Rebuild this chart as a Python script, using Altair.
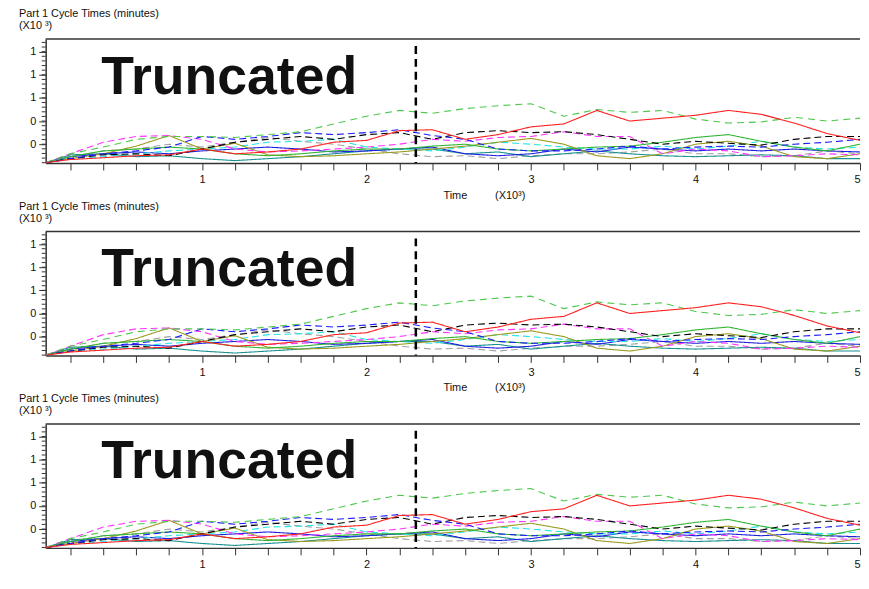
import altair as alt
import pandas as pd

# ---------------- data ----------------
time = [50, 200, 400, 600, 800, 1000, 1200, 1400, 1600, 1800, 2000, 2200, 2400,
        2600, 2800, 3000, 3200, 3400, 3600, 3800, 4000, 4200, 4400, 4600, 4800, 5000]

gray_dashed = [40, 92, 142, 158, 200, 175, 217, 258, 225, 200, 158, 117, 92, 100, 75, 100, 117, 117, 133, 158, 117, 117, 92, 100, 142, 117]
teal_solid = [40, 108, 117, 92, 100, 75, 58, 75, 92, 117, 142, 158, 158, 117, 133, 92, 117, 142, 117, 100, 92, 100, 108, 100, 75, 75]
blue_solid = [40, 92, 117, 133, 117, 142, 158, 175, 158, 133, 142, 158, 175, 117, 100, 117, 158, 133, 175, 158, 142, 158, 142, 158, 142, 133]
cyan_dashed = [40, 75, 92, 117, 142, 158, 175, 217, 225, 242, 175, 158, 142, 175, 217, 200, 175, 158, 158, 183, 158, 183, 225, 175, 158, 175]
olive_solid = [40, 75, 117, 183, 275, 158, 208, 108, 92, 100, 117, 133, 158, 183, 217, 250, 200, 100, 75, 117, 200, 225, 183, 92, 75, 117]
green_solid = [40, 92, 142, 158, 175, 158, 117, 100, 117, 142, 158, 158, 183, 200, 158, 142, 158, 175, 183, 217, 258, 283, 225, 175, 142, 200]
magenta_dashed = [40, 117, 217, 267, 275, 242, 158, 133, 142, 158, 175, 200, 242, 225, 258, 267, 308, 267, 267, 117, 158, 142, 92, 100, 117, 108]
black_dashed = [40, 75, 108, 117, 100, 158, 217, 242, 267, 242, 283, 300, 242, 300, 317, 300, 308, 283, 242, 200, 225, 208, 192, 242, 267, 267]
blue_dashed = [40, 75, 117, 142, 175, 267, 242, 267, 300, 283, 300, 325, 275, 242, 158, 142, 142, 158, 183, 158, 175, 183, 175, 200, 217, 242]
green_dashed = [40, 117, 175, 242, 267, 267, 258, 283, 308, 375, 442, 492, 467, 508, 533, 550, 442, 500, 475, 492, 417, 383, 392, 433, 400, 425]
red_solid = [40, 67, 83, 100, 108, 158, 117, 133, 158, 217, 233, 317, 325, 242, 283, 350, 375, 492, 400, 425, 450, 492, 458, 383, 292, 233]

series = [
    ("s01", gray_dashed, "#a0a0a0", [7, 4]),
    ("s02", teal_solid, "#1a9090", [1, 0]),
    ("s03", blue_solid, "#2020e0", [1, 0]),
    ("s04", cyan_dashed, "#22e5e5", [7, 4]),
    ("s05", olive_solid, "#9a9a20", [1, 0]),
    ("s06", green_solid, "#33b533", [1, 0]),
    ("s07", magenta_dashed, "#ff33ff", [7, 4]),
    ("s08", black_dashed, "#000000", [7, 4]),
    ("s09", blue_dashed, "#1a1aff", [7, 4]),
    ("s10", green_dashed, "#4cc84c", [7, 5]),
    ("s11", red_solid, "#ff2020", [1, 0]),
]

x_ticks = [200, 400, 600, 800, 1000, 1200, 1400, 1600, 1800, 2000, 2200, 2400, 2600,
           2800, 3000, 3200, 3400, 3600, 3800, 4000, 4200, 4400, 4600, 4800, 5000]
y_major = [200, 400, 600, 800, 1000]
y_minor = [40, 80, 120, 160, 200, 240, 280, 320, 360, 400, 440, 480, 520, 560, 600,
           640, 680, 720, 760, 800, 840, 880, 920, 960, 1000, 1040, 1080]
cutoff_time = [2300]

title_line1 = "Part 1 Cycle Times (minutes)"
title_line2 = "(X10 \u00b3)"
x_title = "Time"
x_mult = "(X10\u00b3)"
banner = "Truncated"

rows = []
for name, vals, _, _ in series:
    for t, v in zip(time, vals):
        rows.append({"t": t, "v": v, "s": name})
df = pd.DataFrame(rows)

names = [s[0] for s in series]
colors = [s[2] for s in series]
dashes = [s[3] for s in series]

# ---------------- layout ----------------
W, H = 821, 125
AX = "#333333"
FONT = "Liberation Sans"
xs = alt.Scale(domain=[50, 5000], nice=False, zero=False)
ys = alt.Scale(domain=[37, 1109], nice=False, zero=False)

x_axis = alt.Axis(
    values=x_ticks, title=None, grid=False, tickSize=7, tickColor=AX, tickWidth=1,
    domainColor=AX, domainWidth=1.5, labelFlush=True, labelOverlap=False,
    labelExpr="datum.value % 1000 == 0 ? format(datum.value / 1000, 'd') : ''",
    labelFont=FONT, labelFontSize=11, labelColor="#111111", labelPadding=4)
y_axis = alt.Axis(
    values=y_major, title=None, grid=False, tickSize=7, tickColor=AX, tickWidth=1,
    domainColor=AX, domainWidth=1.5, labelOverlap=False,
    labelExpr="format(datum.value / 1000, '.0f')",
    labelFont=FONT, labelFontSize=11, labelColor="#111111", labelPadding=3)


def text_layer(label, x, y, size=11, weight="normal"):
    return alt.Chart(pd.DataFrame({"label": [label]})).mark_text(
        align="left", baseline="alphabetic", fontSize=size, font=FONT,
        fontWeight=weight, color="#111111"
    ).encode(text="label:N", x=alt.value(x), y=alt.value(y))


def panel(show_time=True):
    lines = alt.Chart(df).mark_line(strokeWidth=1.1, clip=True).encode(
        x=alt.X("t:Q", scale=xs, axis=x_axis),
        y=alt.Y("v:Q", scale=ys, axis=y_axis),
        color=alt.Color("s:N", scale=alt.Scale(domain=names, range=colors), legend=None),
        strokeDash=alt.StrokeDash("s:N", scale=alt.Scale(domain=names, range=dashes), legend=None),
        detail="s:N",
    )
    minor = alt.Chart(pd.DataFrame({"v": y_minor})).mark_rule(color=AX, strokeWidth=1).encode(
        y=alt.Y("v:Q", scale=ys, axis=y_axis), x=alt.value(-4), x2=alt.value(0))
    top = alt.Chart(pd.DataFrame({"a": [0]})).mark_rule(color=AX, strokeWidth=1.5).encode(
        x=alt.value(0), x2=alt.value(W), y=alt.value(0))
    cut = alt.Chart(pd.DataFrame({"t": cutoff_time})).mark_rule(
        color="black", strokeWidth=2.5, strokeDash=[8, 5]).encode(
        x=alt.X("t:Q", scale=xs, axis=x_axis), y=alt.value(7), y2=alt.value(H))
    layers = [lines, minor, top, cut,
              text_layer(banner, 56, 55, size=54, weight="bold"),
              text_layer(title_line1, -27, -22),
              text_layer(title_line2, -27, -10)]
    if show_time:
        layers.append(text_layer(x_title, 401, 161))
        layers.append(text_layer(x_mult, 453, 161))
    return alt.layer(*layers).properties(width=W, height=H)


chart = alt.vconcat(panel(), panel(), panel(show_time=False), spacing=69, bounds="flush").properties(
    padding={"left": 11, "top": -2, "right": 0, "bottom": 0}
).configure_view(stroke=None)

chart.save("out.html", embed_options={"renderer": "svg", "actions": False})
